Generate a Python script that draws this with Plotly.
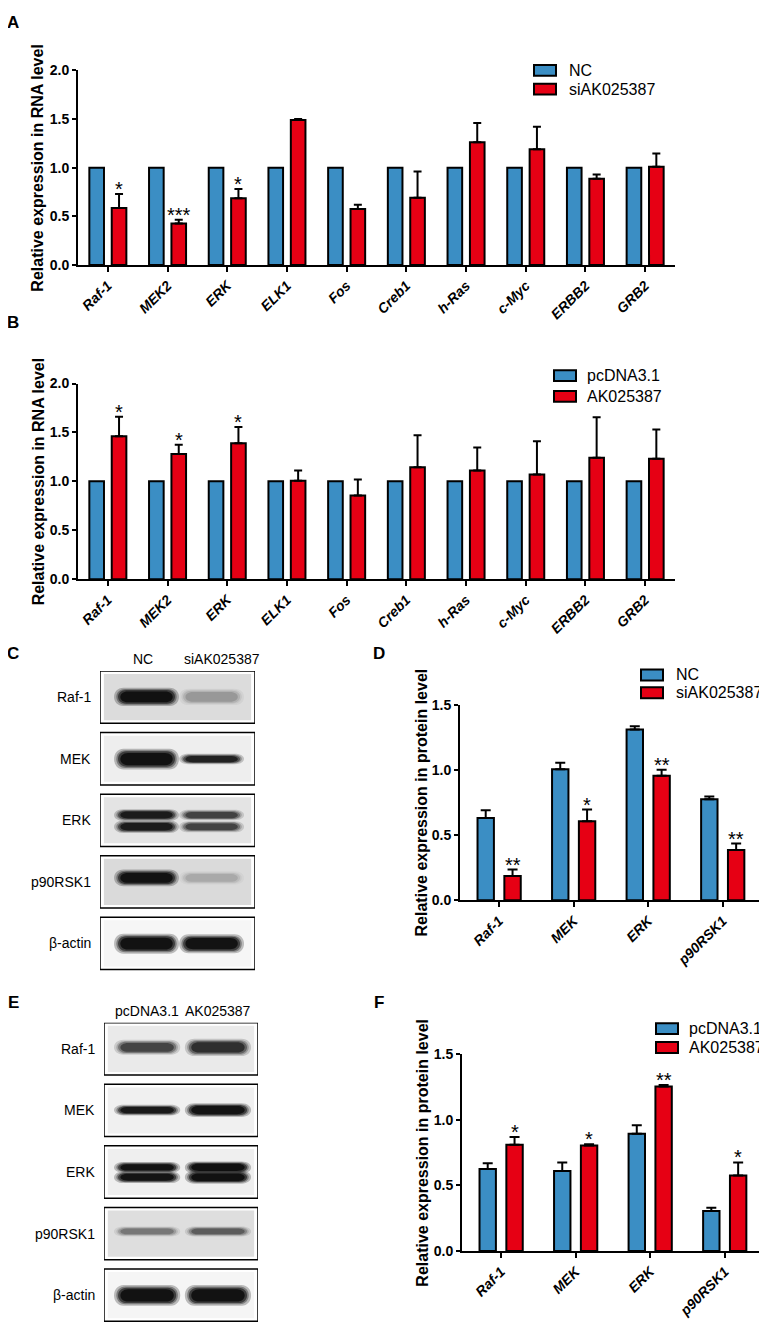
import plotly.graph_objects as go

W, H = 767, 1339
OX, OY = 8, 8          # the page body keeps its default 8px margin
FW, FH = W - OX, H - OY
FONT = "Liberation Sans, Arial, Helvetica, sans-serif"
BLUE = "#3b8ec4"
RED = "#e60014"

# ---------------- data ----------------
rna_genes = ["Raf-1", "MEK2", "ERK", "ELK1", "Fos", "Creb1", "h-Ras", "c-Myc", "ERBB2", "GRB2"]

# A: knockdown, RNA level
a_nc = [1.0, 1.0, 1.0, 1.0, 1.0, 1.0, 1.0, 1.0, 1.0, 1.0]
a_si = [0.585, 0.425, 0.685, 1.49, 0.575, 0.69, 1.26, 1.19, 0.885, 1.01]
a_si_err = [0.145, 0.04, 0.095, 0.01, 0.045, 0.27, 0.2, 0.23, 0.045, 0.135]
a_sig = ["*", "***", "*", "", "", "", "", "", "", ""]

# B: overexpression, RNA level
b_pc = [1.0, 1.0, 1.0, 1.0, 1.0, 1.0, 1.0, 1.0, 1.0, 1.0]
b_ak = [1.46, 1.28, 1.39, 1.005, 0.855, 1.145, 1.11, 1.07, 1.24, 1.23]
b_ak_err = [0.2, 0.095, 0.165, 0.105, 0.165, 0.325, 0.235, 0.34, 0.415, 0.3]
b_sig = ["*", "*", "*", "", "", "", "", "", "", ""]

proteins = ["Raf-1", "MEK", "ERK", "p90RSK1"]

# D: knockdown, protein level
d_nc = [0.63, 1.005, 1.31, 0.775]
d_nc_err = [0.06, 0.05, 0.025, 0.02]
d_si = [0.185, 0.605, 0.955, 0.385]
d_si_err = [0.05, 0.09, 0.045, 0.05]
d_sig = ["**", "*", "**", "**"]

# F: overexpression, protein level
f_pc = [0.625, 0.61, 0.895, 0.305]
f_pc_err = [0.045, 0.065, 0.065, 0.025]
f_ak = [0.81, 0.805, 1.255, 0.575]
f_ak_err = [0.06, 0.01, 0.012, 0.1]
f_sig = ["*", "*", "**", "*"]

# C / E: western blots (band darkness 0..1 per lane)
blot_rows = ["Raf-1", "MEK", "ERK", "p90RSK1", "β-actin"]
c_lanes = ["NC", "siAK025387"]
c_nc_band = [1.0, 1.0, 0.85, 0.97, 1.0]
c_si_band = [0.18, 0.8, 0.55, 0.12, 0.97]
e_lanes = ["pcDNA3.1", "AK025387"]
e_pc_band = [0.55, 0.9, 0.95, 0.3, 1.0]
e_ak_band = [0.68, 0.97, 1.0, 0.4, 1.0]

# band geometry per row: (centre, height) inside a box, in row units,
# plus a per-lane thickness factor
C_BANDS = [[(0.42, 0.22)], [(0.43, 0.25)], [(0.34, 0.14), (0.53, 0.15)], [(0.36, 0.2)], [(0.43, 0.24)]]
C_THICK = [(1.0, 0.9), (1.0, 0.5), (1.0, 0.9), (1.0, 0.8), (1.0, 0.95)]
E_BANDS = [[(0.40, 0.19)], [(0.42, 0.15)], [(0.35, 0.13), (0.51, 0.14)], [(0.39, 0.12)], [(0.43, 0.25)]]
E_THICK = [(0.95, 1.1), (0.85, 1.1), (1.0, 1.1), (1.0, 1.0), (1.0, 1.0)]
C_BG = ["#dcdcdc", "#eeeeee", "#e4e4e4", "#dadada", "#f6f6f6"]
E_BG = ["#eaeaea", "#f0f0f0", "#efefef", "#dedede", "#f5f5f5"]
BOX_H = 0.85


def px(x):
    return (x - OX) / FW


def py(y):
    return 1 - (y - OY) / FH


def ydom(top, bottom):
    return [py(bottom), py(top)]


fig = go.Figure()
shapes = []
annotations = []
axes = {}


def text_at(text, x, y, size=14, xanchor="center", bold=False, angle=0):
    annotations.append(dict(xref="paper", yref="paper", x=px(x), y=py(y),
                            text="<b>%s</b>" % text if bold else text, textangle=angle,
                            showarrow=False, xanchor=xanchor, yanchor="middle",
                            font=dict(family=FONT, size=size, color="black")))


def legend(names, colors, sx, tx, ys):
    for name, color, yc in zip(names, colors, ys):
        shapes.append(dict(type="rect", xref="paper", yref="paper", x0=px(sx), x1=px(sx + 22),
                           y0=py(yc + 5.5), y1=py(yc - 5.5), fillcolor=color,
                           line=dict(color="black", width=2)))
        text_at(name, tx, yc, size=16, xanchor="left")


def bar_panel(k, cats, g1, g2, sig, xpx, ypx, ymax, xlo, bw, offs, cap, title, title_x):
    s = "" if k == 1 else str(k)
    idx = list(range(len(cats)))
    for (vals, errs), color, off in zip((g1, g2), (BLUE, RED), offs):
        if errs is None:
            err = dict(visible=False)
        else:
            err = dict(type="data", array=errs, arrayminus=[0.0 for _ in errs], symmetric=False,
                       color="black", thickness=2, width=cap)
        fig.add_trace(go.Bar(x=idx, y=vals, width=bw, offset=off, xaxis="x" + s, yaxis="y" + s,
                             marker=dict(color=color, line=dict(color="black", width=2)),
                             error_y=err, showlegend=False, hoverinfo="skip"))
    for i, t in enumerate(sig):
        if t:
            annotations.append(dict(xref="x" + s, yref="y" + s, x=i + offs[1] + bw / 2,
                                    y=g2[0][i] + g2[1][i], text=t, showarrow=False,
                                    yanchor="bottom", yshift=-8,
                                    font=dict(family=FONT, size=20, color="black")))
    axes["xaxis" + s] = dict(domain=[px(xpx[0]), px(xpx[1])], anchor="y" + s,
                             range=[xlo, len(cats) - 0.5], tickvals=idx, ticktext=cats,
                             tickangle=-45, showline=True, linecolor="black", linewidth=2,
                             ticks="outside", ticklen=5, tickwidth=2, tickcolor="black",
                             showgrid=False, zeroline=False, fixedrange=True,
                             tickfont=dict(family=FONT, size=14, color="black",
                                           weight="bold", style="italic"))
    axes["yaxis" + s] = dict(domain=ydom(ypx[0], ypx[1]), anchor="x" + s, range=[0, ymax],
                             dtick=0.5, tickformat=".1f", showline=True, linecolor="black",
                             linewidth=2, ticks="outside", ticklen=4, tickwidth=2,
                             tickcolor="black", showgrid=False, zeroline=False, fixedrange=True,
                             tickfont=dict(family=FONT, size=14, color="black", weight="bold"))
    text_at(title, title_x, (ypx[0] + ypx[1]) / 2, size=16, bold=True, angle=-90)


def band(s, xc, w, yc, h, v):
    for scale, alpha in ((1.35, 0.25), (1.15, 0.35), (1.0, 0.55), (0.8, 0.85)):
        ww = w * (1 + (scale - 1) * 0.4)
        hh = h * scale
        x0, x1 = xc - ww / 2, xc + ww / 2
        y0, y1 = yc - hh / 2, yc + hh / 2
        rx = ww * 0.15
        path = ("M %f,%f L %f,%f C %f,%f %f,%f %f,%f L %f,%f C %f,%f %f,%f %f,%f Z" %
                (x0 + rx, y0, x1 - rx, y0, x1 + rx * 0.3, y0, x1 + rx * 0.3, y1, x1 - rx, y1,
                 x0 + rx, y1, x0 - rx * 0.3, y1, x0 - rx * 0.3, y0, x0 + rx, y0))
        shapes.append(dict(type="path", xref="x" + s, yref="y" + s, path=path,
                           fillcolor="rgba(10,10,10,%.3f)" % (alpha * v), line=dict(width=0)))


def blot_panel(k, rows, lanes, lane_bands, lane_x, lane_w, geom, thick, bg, xpx, top, step,
               label_x):
    s = str(k)
    axes["xaxis" + s] = dict(domain=[px(xpx[0]), px(xpx[1])], range=[0, 1], visible=False,
                             anchor="y" + s, fixedrange=True)
    axes["yaxis" + s] = dict(domain=ydom(top, top + len(rows) * step), range=[len(rows), 0],
                             visible=False, anchor="x" + s, fixedrange=True)
    # invisible trace so the blot subplot is created
    fig.add_trace(go.Scatter(x=lane_x, y=[BOX_H / 2 for _ in lane_x], mode="markers",
                             marker=dict(opacity=0), xaxis="x" + s, yaxis="y" + s,
                             showlegend=False, hoverinfo="skip"))
    for r, name in enumerate(rows):
        shapes.append(dict(type="rect", xref="x" + s, yref="y" + s, x0=0, x1=1, y0=r,
                           y1=r + BOX_H, fillcolor="white", line=dict(color="black", width=1.5)))
        shapes.append(dict(type="rect", xref="x" + s, yref="y" + s, x0=0.025, x1=0.975,
                           y0=r + 0.05, y1=r + BOX_H - 0.05, fillcolor=bg[r], line=dict(width=0)))
        for li, vals in enumerate(lane_bands):
            for yc, h in geom[r]:
                band(s, lane_x[li], lane_w, r + yc, h * thick[r][li], vals[r])
        text_at(name, xpx[0] - 7, top + (r + BOX_H / 2) * step, xanchor="right")
    for name, lx in zip(lanes, label_x):
        text_at(name, lx, top - 12)


# A
bar_panel(1, rna_genes, (a_nc, None), (a_si, a_si_err), a_sig, (78, 675), (63, 260), 2.0,
          -0.5, 0.245, (-0.31, 0.065), 4, "Relative expression in RNA level", 38)
legend(["NC", "siAK025387"], [BLUE, RED], 534, 567, [63, 82])
text_at("A", 13, 15, size=17, bold=True)

# B
bar_panel(2, rna_genes, (b_pc, None), (b_ak, b_ak_err), b_sig, (78, 675), (380, 578), 2.0,
          -0.5, 0.245, (-0.31, 0.065), 4, "Relative expression in RNA level", 38)
legend(["pcDNA3.1", "AK025387"], [BLUE, RED], 554, 585, [372, 393])
text_at("B", 13, 318, size=17, bold=True)

# C
blot_panel(3, blot_rows, c_lanes, [c_nc_band, c_si_band], [0.30, 0.72], 0.37, C_BANDS, C_THICK,
           C_BG, (100, 255), 671, 62.3, [143, 222])
text_at("C", 13, 653, size=17, bold=True)

# D
bar_panel(4, proteins, (d_nc, d_nc_err), (d_si, d_si_err), d_sig, (460, 760), (705, 903), 1.5,
          -0.525, 0.22, (-0.29, 0.07), 5, "Relative expression in protein level", 421)
legend(["NC", "siAK025387"], [BLUE, RED], 641, 674, [675, 693])
text_at("D", 379, 653, size=17, bold=True)

# E
blot_panel(5, blot_rows, e_lanes, [e_pc_band, e_ak_band], [0.28, 0.74], 0.38, E_BANDS, E_THICK,
           E_BG, (104, 258), 1027, 62.3, [147, 218])
text_at("E", 13, 1007, size=17, bold=True)

# F
bar_panel(6, proteins, (f_pc, f_pc_err), (f_ak, f_ak_err), f_sig, (462, 762), (1059, 1258), 1.5,
          -0.525, 0.22, (-0.29, 0.07), 5, "Relative expression in protein level", 423)
legend(["pcDNA3.1", "AK025387"], [BLUE, RED], 656, 687, [1033, 1052])
text_at("F", 379, 1007, size=17, bold=True)

fig.update_layout(width=FW, height=FH, margin=dict(l=0, r=0, t=0, b=0),
                  paper_bgcolor="white", plot_bgcolor="white", barmode="overlay",
                  showlegend=False, shapes=shapes, annotations=annotations,
                  font=dict(family=FONT, color="black"), **axes)

fig.write_html("out.html")
